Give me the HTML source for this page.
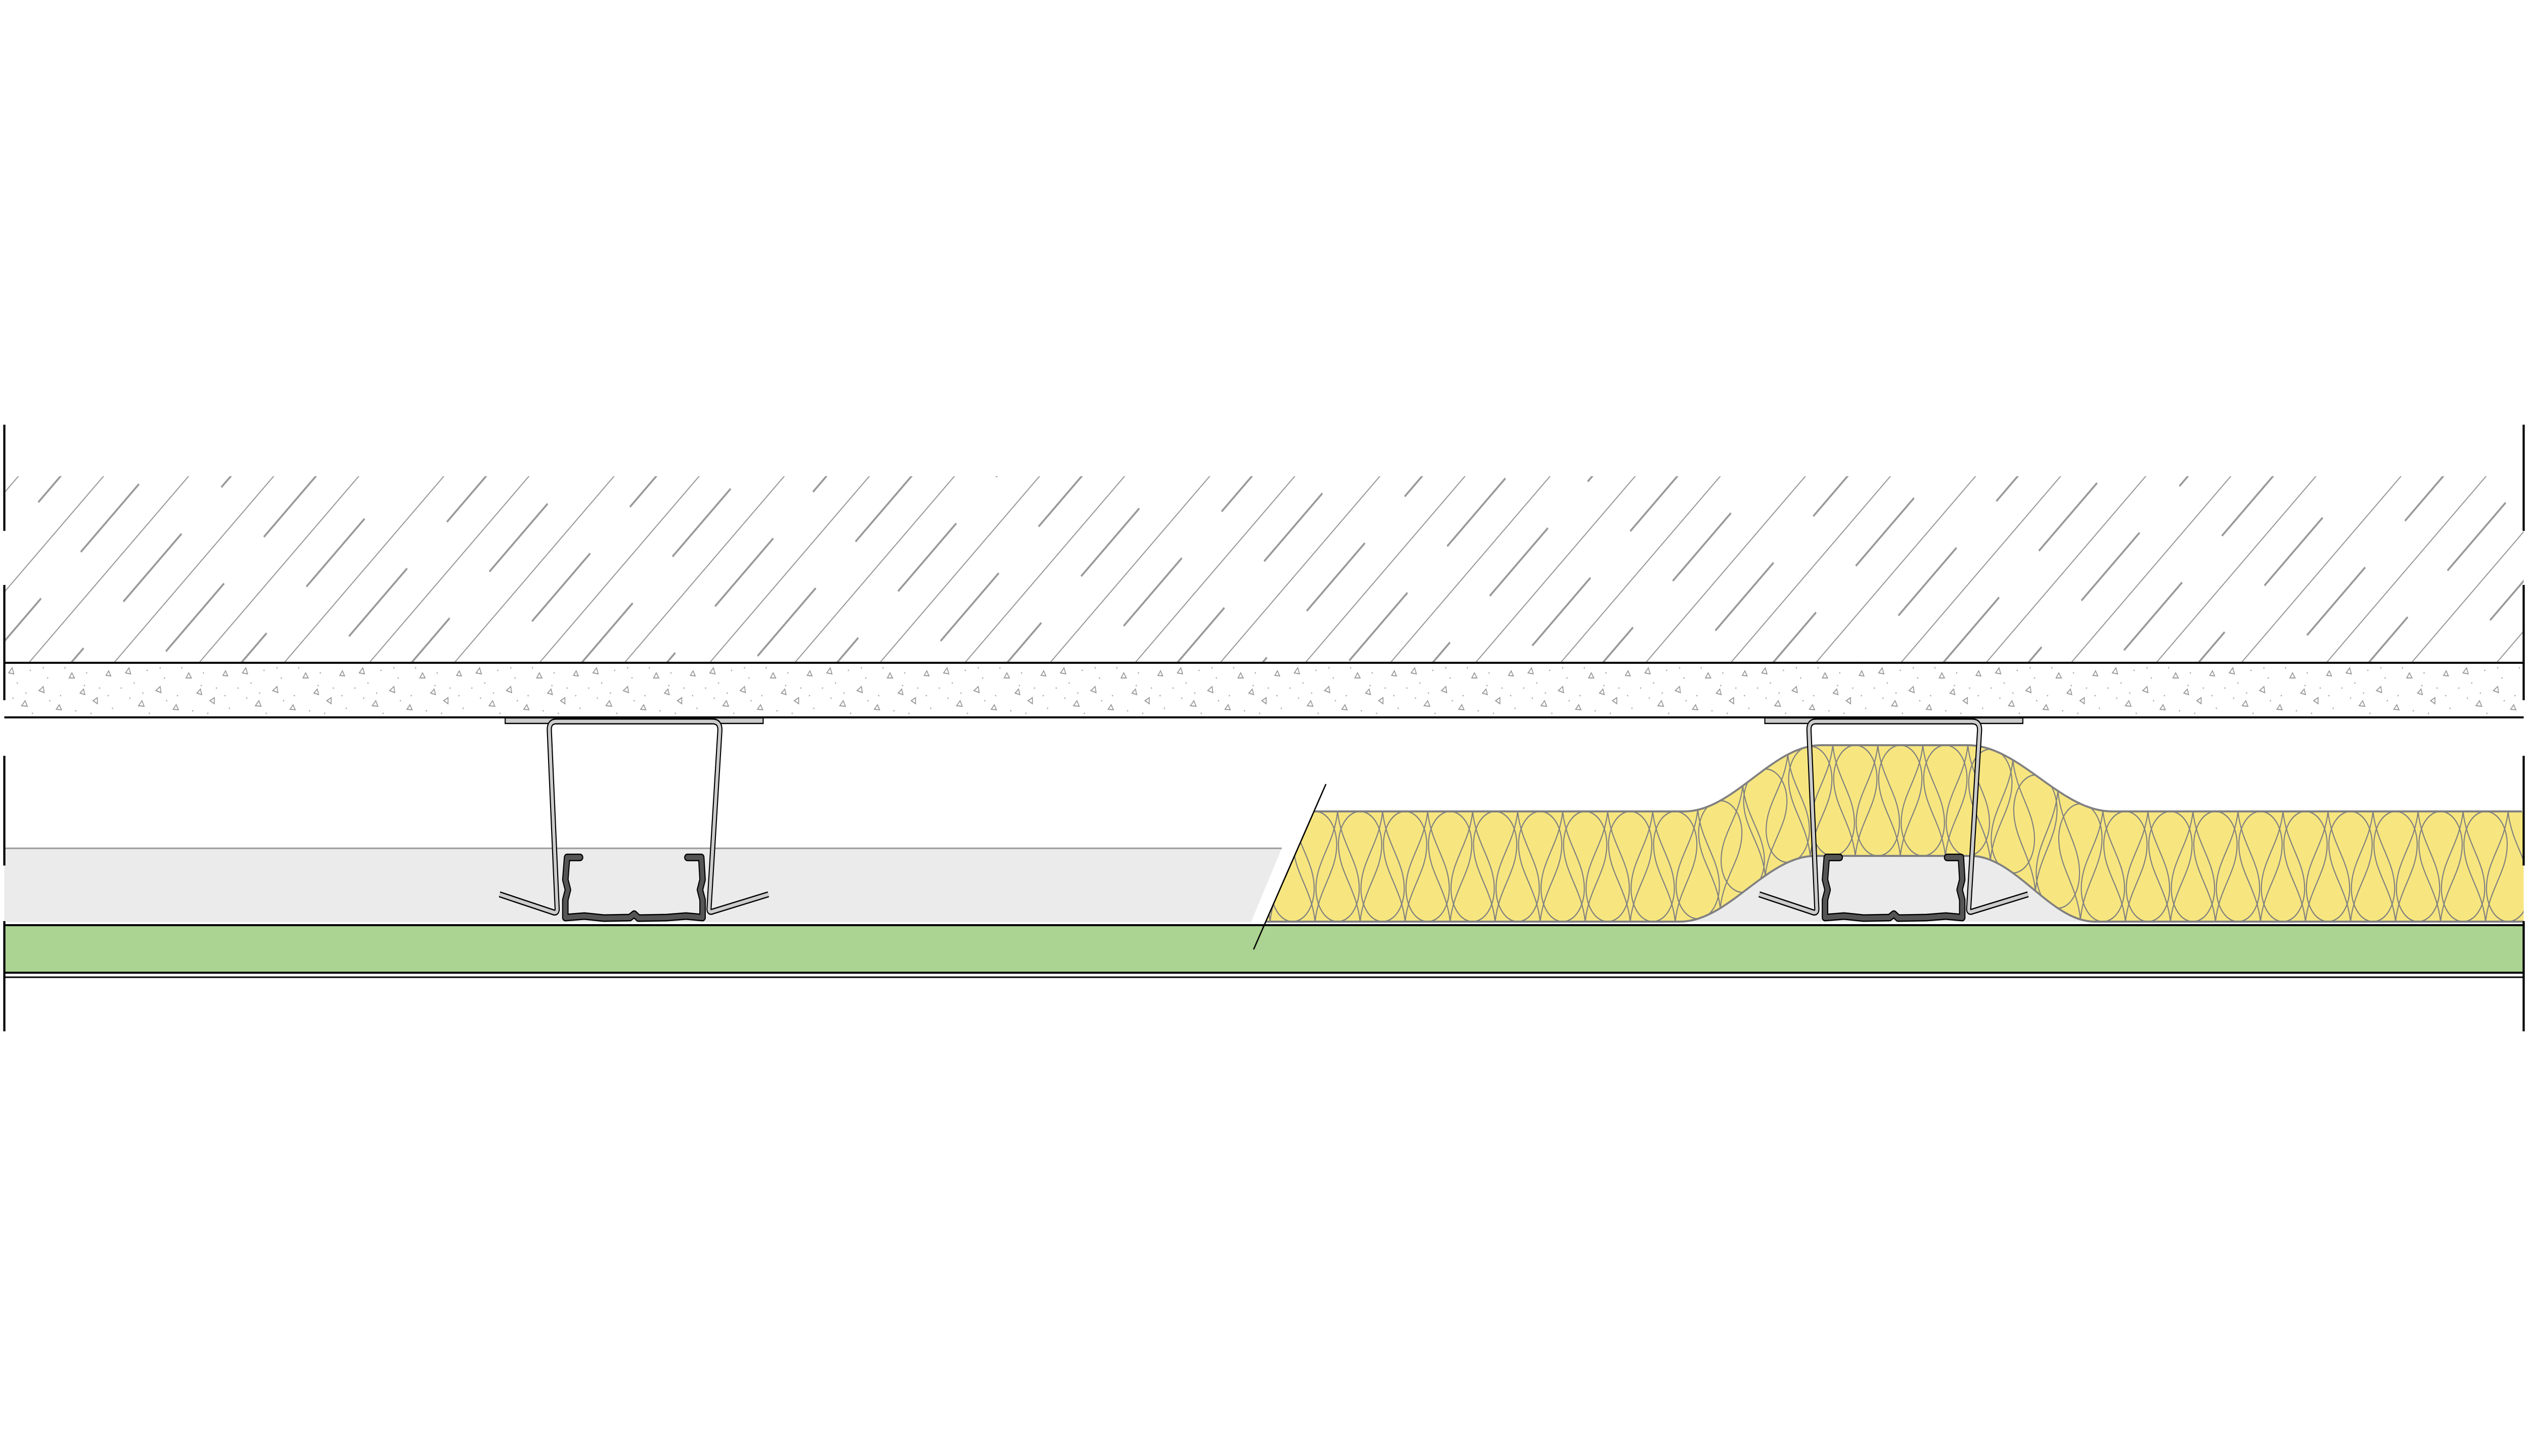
<!DOCTYPE html>
<html><head><meta charset="utf-8">
<style>html,body{margin:0;padding:0;background:#fff;width:100%;height:100%;overflow:hidden;}svg{display:block;position:fixed;left:0;top:0;width:100vw;height:100vh;}</style>
</head><body>
<svg id="s" xmlns="http://www.w3.org/2000/svg" viewBox="0 0 5840 2880" preserveAspectRatio="none" overflow="hidden">
<defs>
<pattern id="hatch" patternUnits="userSpaceOnUse" width="320" height="139" patternTransform="rotate(-45)">
  <line x1="0" y1="1" x2="320" y2="1" stroke="#999" stroke-width="2.5"/>
  <line x1="0" y1="70" x2="320" y2="70" stroke="#999" stroke-width="4" stroke-dasharray="190 130"/>
</pattern>
<pattern id="conc" patternUnits="userSpaceOnUse" x="0" y="1311" width="270" height="108">
  <g fill="none" stroke="#999" stroke-width="2">
    <path d="M20,20 l8,-10 l4,12 z"/><path d="M90,55 l10,-8 l2,12 z"/><path d="M160,30 l6,-10 l6,10 z"/>
    <path d="M215,75 l10,-6 l0,12 z"/><path d="M50,85 l8,-10 l5,11 z"/><path d="M130,92 l7,-9 l5,10 z"/>
    <path d="M245,25 l6,-9 l5,10 z"/><path d="M185,60 l8,-8 l3,11 z"/>
  </g>
  <g fill="#aaa">
    <circle cx="10" cy="50" r="1.5"/><circle cx="40" cy="40" r="1.5"/><circle cx="70" cy="15" r="1.5"/>
    <circle cx="110" cy="30" r="1.5"/><circle cx="140" cy="65" r="1.5"/><circle cx="200" cy="20" r="1.5"/>
    <circle cx="230" cy="50" r="1.5"/><circle cx="260" cy="90" r="1.5"/><circle cx="30" cy="70" r="1.5"/>
    <circle cx="75" cy="100" r="1.5"/><circle cx="115" cy="75" r="1.5"/><circle cx="175" cy="95" r="1.5"/>
    <circle cx="195" cy="45" r="1.5"/><circle cx="100" cy="10" r="1.5"/><circle cx="250" cy="65" r="1.5"/>
    <circle cx="60" cy="60" r="1.5"/><circle cx="150" cy="10" r="1.5"/><circle cx="210" cy="100" r="1.5"/>
  </g>
</pattern>
<clipPath id="hclip"><rect x="10" y="942" width="5820" height="369"/></clipPath>
<clipPath id="insclip"><path id="insclipPath" d=""/></clipPath>
</defs>

<rect x="10" y="942" width="5820" height="369" fill="url(#hatch)" clip-path="url(#hclip)"/>
<rect x="10" y="1311" width="5820" height="108" fill="url(#conc)"/>
<line x1="10" y1="1311" x2="5830" y2="1311" stroke="#000" stroke-width="4"/>
<line x1="10" y1="1419" x2="5830" y2="1419" stroke="#000" stroke-width="4"/>

<polygon points="10,1678 2961,1678 2890,1824 10,1824" fill="#ebebeb"/>
<line x1="10" y1="1678" x2="2961" y2="1678" stroke="#999" stroke-width="3"/>

<g id="ins"></g>

<rect x="10" y="1830" width="5820" height="94" fill="#abd391"/>
<line x1="10" y1="1830" x2="5830" y2="1830" stroke="#000" stroke-width="4"/>
<line x1="10" y1="1924" x2="5830" y2="1924" stroke="#000" stroke-width="4"/>
<line x1="10" y1="1933" x2="5830" y2="1933" stroke="#000" stroke-width="3"/>

<g id="studs"></g>

<line x1="3063" y1="1551" x2="2896" y2="1878" stroke="#000" stroke-width="3"/>

<g stroke="#000" stroke-width="5">
  <line x1="10" y1="840" x2="10" y2="1050"/><line x1="10" y1="1157" x2="10" y2="1385"/>
  <line x1="10" y1="1495" x2="10" y2="1712"/><line x1="10" y1="1822" x2="10" y2="2040"/>
  <line x1="5830" y1="840" x2="5830" y2="1050"/><line x1="5830" y1="1157" x2="5830" y2="1385"/>
  <line x1="5830" y1="1495" x2="5830" y2="1712"/><line x1="5830" y1="1822" x2="5830" y2="2040"/>
</g>

<script>
(function(){
var NS="http://www.w3.org/2000/svg";
function el(t,a,p){var e=document.createElementNS(NS,t);for(var k in a)e.setAttribute(k,a[k]);p.appendChild(e);return e;}
function s(t){return (1-Math.cos(Math.PI*Math.max(0,Math.min(1,t))))/2;}
function top(x){if(x<3890||x>4880)return 1605;if(x<4208)return 1605-131*s((x-3890)/318);if(x<=4545)return 1474;return 1474+131*s((x-4545)/335);}
function bot(x){if(x<3880||x>4840)return 1823;if(x<4194)return 1823-130*s((x-3880)/314);if(x<=4552)return 1693;return 1693+130*s((x-4552)/288);}
function xb(y){return 3063-0.5107*(y-1551);}
var g=document.getElementById('ins');
var d="M3870,1823";for(var x=3870;x<=4850;x+=5)d+=" L"+x+","+bot(x).toFixed(1);d+=" L4850,1823 Z";
el('path',{d:d,fill:'#ebebeb'},g);
var x0=xb(1605),x1=xb(1823);
d="M"+x0+",1605";for(x=Math.ceil(x0);x<=5830;x+=5)d+=" L"+x+","+top(x).toFixed(1);
d+=" L5830,"+top(5830)+" L5830,1823";for(x=5830;x>=x1;x-=5)d+=" L"+x+","+bot(x).toFixed(1);d+=" L"+x1+",1823 Z";
document.getElementById('insclipPath').setAttribute('d',d);
el('path',{d:d,fill:'#f7e67f'},g);
var lg=el('g',{'clip-path':'url(#insclip)',fill:'none',stroke:'#808080','stroke-width':'2.5'},g);
var r=50;
for(var cx=2934;cx<=5760;cx+=104){
  var y0=top(cx),y1=bot(cx),H=y1-y0,yb=y0+0.3*H,ry=yb-y0;
  el('path',{d:"M"+cx+","+y1+" C"+(cx-8)+","+(y1-0.3*H)+" "+(cx-r)+","+(yb+0.25*H)+" "+(cx-r)+","+yb+" A"+r+","+ry+" 0 0 1 "+(cx+r)+","+yb+" C"+(cx+r)+","+(yb+0.25*H)+" "+(cx+8)+","+(y1-0.3*H)+" "+cx+","+y1},lg);
  var c2=cx+52;y0=top(c2);y1=bot(c2);H=y1-y0;yb=y1-0.3*H;ry=y1-yb;
  el('path',{d:"M"+c2+","+y0+" C"+(c2-8)+","+(y0+0.3*H)+" "+(c2-r)+","+(yb-0.25*H)+" "+(c2-r)+","+yb+" A"+r+","+ry+" 0 0 0 "+(c2+r)+","+yb+" C"+(c2+r)+","+(yb-0.25*H)+" "+(c2+8)+","+(y0+0.3*H)+" "+c2+","+y0},lg);
}
var o="M"+x0+",1605";for(x=Math.ceil(x0);x<=5830;x+=5)o+=" L"+x+","+top(x).toFixed(1);
el('path',{d:o,fill:'none',stroke:'#808080','stroke-width':'4'},g);
o="M"+x1+",1823";for(x=Math.ceil(x1);x<=5830;x+=5)o+=" L"+x+","+bot(x).toFixed(1);
el('path',{d:o,fill:'none',stroke:'#808080','stroke-width':'4'},g);
var sg=document.getElementById('studs');
[0,-2910].forEach(function(dx){
  var G=el('g',{transform:'translate('+dx+',0)'},sg);
  el('rect',{x:4077,y:1420,width:596,height:11,fill:'#ccc',stroke:'#000','stroke-width':'2.5'},G);
  var hp="M4064,1769 L4190,1805 Q4198,1806 4197,1796 L4179,1445 Q4178,1427 4195,1427 L4556,1427 Q4574,1427 4573,1445 L4548,1796 Q4547,1806 4556,1803 L4685,1769";
  el('path',{d:hp,fill:'none',stroke:'#000','stroke-width':'12','stroke-linejoin':'round'},G);
  el('path',{d:hp,fill:'none',stroke:'#ccc','stroke-width':'7','stroke-linejoin':'round'},G);
  var cp="M4250,1696 L4220,1696 L4216,1740 L4222,1760 L4216,1780 L4216,1815 L4260,1812 L4305,1816 L4365,1815 L4375,1808 L4385,1816 L4450,1815 L4495,1812 L4533,1815 L4533,1780 L4527,1760 L4533,1740 L4530,1696 L4498,1696";
  el('path',{d:cp,fill:'none',stroke:'#000','stroke-width':'15','stroke-linejoin':'round','stroke-linecap':'round'},G);
  el('path',{d:cp,fill:'none',stroke:'#555','stroke-width':'10','stroke-linejoin':'round','stroke-linecap':'round'},G);
});
})();
</script>
</svg>
</body></html>
